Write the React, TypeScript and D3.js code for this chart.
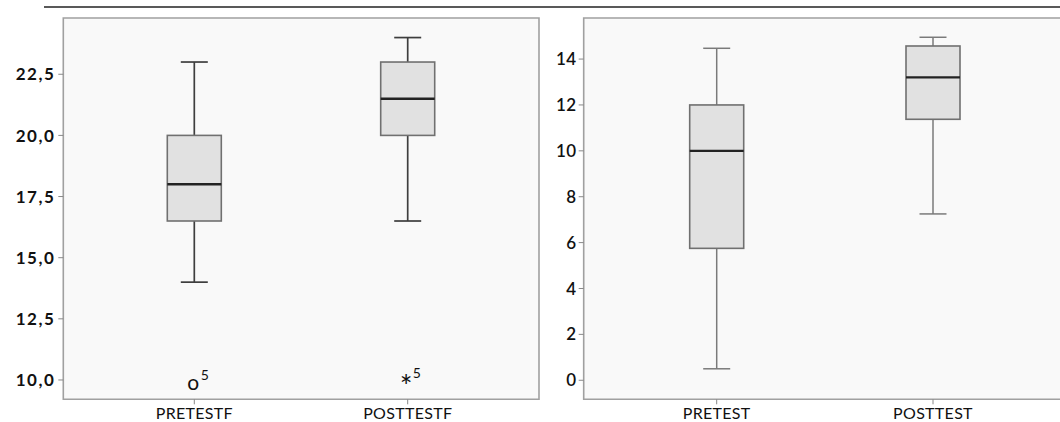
import React from "react";
import * as d3 from "d3";

// left panel (comma decimals)
const categoriesF = ["PRETESTF", "POSTTESTF"];
const minF = [14.0, 16.5];
const q1F = [16.5, 20.0];
const medianF = [18.0, 21.5];
const q3F = [20.0, 23.0];
const maxF = [23.0, 24.0];
const outliersF = [
  { cat: "PRETESTF", value: 10.0, symbol: "o", label: "5" },
  { cat: "POSTTESTF", value: 10.0, symbol: "*", label: "5" },
];
const ticksF = [10, 12.5, 15, 17.5, 20, 22.5];

// right panel
const categories = ["PRETEST", "POSTTEST"];
const minR = [0.5, 7.25];
const q1R = [5.75, 11.375];
const medianR = [10.0, 13.2];
const q3R = [12.0, 14.57];
const maxR = [14.47, 14.95];
const ticksR = [0, 2, 4, 6, 8, 10, 12, 14];

const FONT = "Lato, 'Open Sans', sans-serif";

type Outlier = { cat: string; value: number; symbol: string; label: string };

function Panel(props: {
  left: number;
  right: number;
  xRange: [number, number];
  domain: [number, number];
  cats: string[];
  mins: number[];
  q1s: number[];
  meds: number[];
  q3s: number[];
  maxs: number[];
  outliers: Outlier[];
  ticks: number[];
  fmt: (v: number) => string;
  bold: boolean;
  whiskerColor: string;
  whiskerWidth: number;
  showRightBorder: boolean;
}) {
  const top = 18;
  const bottom = 399.3;
  const y = d3.scaleLinear().domain(props.domain).range([bottom, top]);
  const x = d3.scalePoint<string>().domain(props.cats).range(props.xRange);
  const boxW = 54;
  const capW = 27;
  const w = props.right - props.left;
  return (
    <g>
      <rect
        x={props.left}
        y={top}
        width={w}
        height={bottom - top}
        fill="#f9f9f9"
        stroke="none"
      />
      <path
        d={
          props.showRightBorder
            ? `M${props.left},${top}H${props.right}V${bottom}H${props.left}Z`
            : `M${props.right},${top}H${props.left}V${bottom}H${props.right}`
        }
        fill="none"
        stroke="#a0a0a0"
        strokeWidth={1.6}
      />
      {props.ticks.map((t) => (
        <g key={t}>
          <line
            x1={props.left - 5}
            x2={props.left}
            y1={y(t)}
            y2={y(t)}
            stroke="#888"
            strokeWidth={1}
          />
          <text
            x={props.bold ? props.left - 8 : props.left - 7}
            y={y(t)}
            dy="0.36em"
            textAnchor="end"
            fontFamily={FONT}
            fontSize={17}
            fontWeight={props.bold ? 700 : 600}
            letterSpacing={props.bold ? 1.5 : 0.5}
            fill="#111"
          >
            {props.fmt(t)}
          </text>
        </g>
      ))}
      {props.cats.map((c, i) => {
        const cx = x(c) as number;
        return (
          <g key={c}>
            <line x1={cx} x2={cx} y1={bottom} y2={bottom + 5} stroke="#888" />
            <text
              x={cx}
              y={418.5}
              textAnchor="middle"
              fontFamily={FONT}
              fontSize={16}
              letterSpacing={0.3}
              fill="#111"
            >
              {c}
            </text>
            <line
              x1={cx}
              x2={cx}
              y1={y(props.maxs[i])}
              y2={y(props.q3s[i])}
              stroke={props.whiskerColor}
              strokeWidth={props.whiskerWidth}
            />
            <line
              x1={cx}
              x2={cx}
              y1={y(props.q1s[i])}
              y2={y(props.mins[i])}
              stroke={props.whiskerColor}
              strokeWidth={props.whiskerWidth}
            />
            <line
              x1={cx - capW / 2}
              x2={cx + capW / 2}
              y1={y(props.maxs[i])}
              y2={y(props.maxs[i])}
              stroke={props.whiskerColor}
              strokeWidth={props.whiskerWidth}
            />
            <line
              x1={cx - capW / 2}
              x2={cx + capW / 2}
              y1={y(props.mins[i])}
              y2={y(props.mins[i])}
              stroke={props.whiskerColor}
              strokeWidth={props.whiskerWidth}
            />
            <rect
              x={cx - boxW / 2}
              y={y(props.q3s[i])}
              width={boxW}
              height={y(props.q1s[i]) - y(props.q3s[i])}
              fill="#e1e1e1"
              stroke="#707070"
              strokeWidth={1.6}
            />
            <line
              x1={cx - boxW / 2}
              x2={cx + boxW / 2}
              y1={y(props.meds[i])}
              y2={y(props.meds[i])}
              stroke="#222"
              strokeWidth={2.4}
            />
          </g>
        );
      })}
      {props.outliers.map((o, i) => {
        const cx = x(o.cat) as number;
        const cy = y(o.value);
        const star = o.symbol === "*";
        return (
          <g key={i}>
            <text
              x={star ? cx - 1.5 : cx - 1}
              y={star ? cy : cy + 10.5}
              dy={star ? "0.58em" : 0}
              textAnchor="middle"
              fontFamily={FONT}
              fontSize={star ? 30 : 21}
              fill="#111"
            >
              {o.symbol}
            </text>
            <text
              x={star ? cx + 5 : cx + 6.5}
              y={star ? cy - 2 : cy}
              fontFamily={FONT}
              fontSize={14}
              fill="#111"
            >
              {o.label}
            </text>
          </g>
        );
      })}
    </g>
  );
}

export default function App() {
  const commaFmt = (v: number) => d3.format(".1f")(v).replace(".", ",");
  return (
    <svg
      width={1060}
      height={422}
      style={{ position: "absolute", left: 0, top: 0, background: "#fff" }}
    >
      <line x1={44} x2={1060} y1={7} y2={7} stroke="#222" strokeWidth={1.6} />
      <Panel
        left={63.3}
        right={539}
        xRange={[194.3, 407.7]}
        domain={[9.21, 24.8]}
        cats={categoriesF}
        mins={minF}
        q1s={q1F}
        meds={medianF}
        q3s={q3F}
        maxs={maxF}
        outliers={outliersF}
        ticks={ticksF}
        fmt={commaFmt}
        bold={true}
        whiskerColor="#3e3e3e"
        whiskerWidth={1.7}
        showRightBorder={true}
      />
      <Panel
        left={583.7}
        right={1070}
        xRange={[716.7, 933]}
        domain={[-0.83, 15.79]}
        cats={categories}
        mins={minR}
        q1s={q1R}
        meds={medianR}
        q3s={q3R}
        maxs={maxR}
        outliers={[]}
        ticks={ticksR}
        fmt={(v) => String(v)}
        bold={false}
        whiskerColor="#7a7a7a"
        whiskerWidth={1.5}
        showRightBorder={false}
      />
    </svg>
  );
}
